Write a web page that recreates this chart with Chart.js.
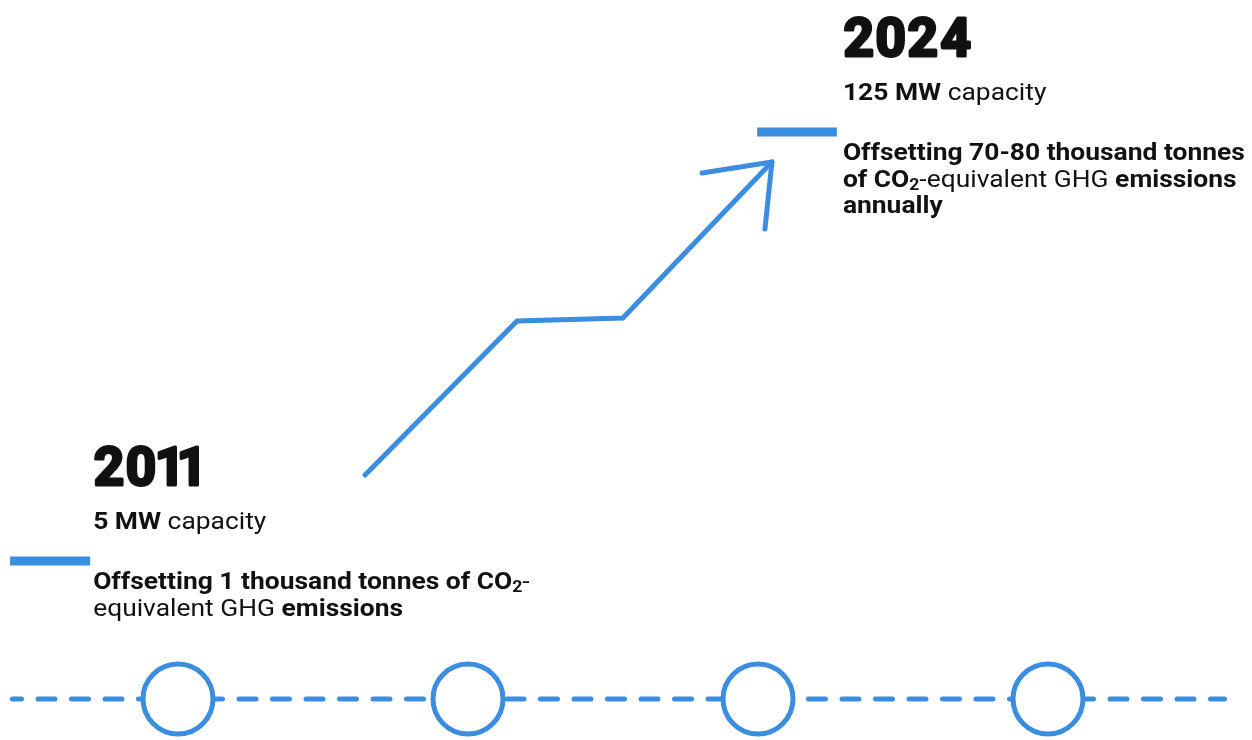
<!DOCTYPE html>
<html>
<head>
<meta charset="utf-8">
<script src="https://cdn.jsdelivr.net/npm/chart.js@4"></script>
<style>
  html, body { margin: 0; padding: 0; background: #fff; }
  canvas { display: block; }
</style>
</head>
<body>
<canvas id="growthChart" width="1252" height="740"></canvas>
<script>
// timeline: milestone circles sit at positions 1..4
const milestones = [1, 2, 3, 4];
const timelineStart = 0.4293;
const timelineEnd = 4.6086;
const timelineLevel = 41;

// growth arrow path (timeline position, level)
const growthX = [1.645, 2.169, 2.534, 3.048];
const growthY = [265, 419, 422, 578];
const arrowHeadX = [2.807, 3.048, 3.024];
const arrowHeadY = [567, 578, 511];

// the two milestone markers
const years = ['2011', '2024'];
const capacityMW = ['5', '125'];
const markerStart = [0.421, 2.997];
const markerEnd = [0.697, 3.272];
const markerLevel = [179, 608];

// offset text, split into bold / regular / subscript runs
const offsetText = [
  [
    [['Offsetting 1 thousand tonnes of CO', 'b'], ['2', 'bs'], ['-', 'r']],
    [['equivalent GHG ', 'r'], ['emissions', 'b']]
  ],
  [
    [['Offsetting 70-80 thousand tonnes', 'b']],
    [['of CO', 'b'], ['2', 'bs'], ['-equivalent GHG ', 'r'], ['emissions', 'b']],
    [['annually', 'b']]
  ]
];

const blue = '#3b8ddf';
const ink = '#111111';
const stretch = 1.1; // the source text is a bit wider than plain Roboto
const textGap = [3, 6];

const pairs = (xs, ys) => xs.map((x, i) => ({ x: x, y: ys[i] }));

function drawRuns(ctx, runs, x, y, size) {
  ctx.save();
  ctx.translate(x, y);
  ctx.scale(stretch, 1);
  let cx = 0;
  runs.forEach(([text, style]) => {
    const bold = style[0] === 'b';
    const sub = style.indexOf('s') > 0;
    const fs = sub ? Math.round(size * 0.68) : size;
    ctx.font = (bold ? '700 ' : '400 ') + fs + 'px Roboto';
    ctx.fillText(text, cx, sub ? 3 : 0);
    cx += ctx.measureText(text).width;
  });
  ctx.restore();
}

// heavy year numbers: proportional digits, stroked for extra weight
function drawYear(ctx, text, x, y) {
  ctx.save();
  ctx.font = '700 53px Roboto';
  ctx.strokeStyle = ink;
  ctx.lineWidth = 3;
  ctx.lineJoin = 'round';
  let cx = x + 1.5;
  for (const ch of text) {
    const m = ctx.measureText(ch);
    const gx = cx + m.actualBoundingBoxLeft;
    ctx.fillText(ch, gx, y);
    ctx.strokeText(ch, gx, y);
    cx += m.actualBoundingBoxLeft + m.actualBoundingBoxRight + 5;
  }
  ctx.restore();
}

const labelsPlugin = {
  id: 'milestoneLabels',
  afterDraw(chart) {
    const ctx = chart.ctx;
    const xs = chart.scales.x, ys = chart.scales.y;
    ctx.save();
    ctx.fillStyle = ink;
    ctx.textBaseline = 'alphabetic';
    ctx.textAlign = 'left';
    years.forEach((year, i) => {
      const left = xs.getPixelForValue(markerEnd[i]) + textGap[i];
      const top = ys.getPixelForValue(markerLevel[i]);
      drawYear(ctx, year, left, top - 76);
      drawRuns(ctx, [[capacityMW[i] + ' MW ', 'b'], ['capacity', 'r']], left, top - 32, 24);
      offsetText[i].forEach((line, j) => {
        drawRuns(ctx, line, left, top + 28 + j * 26.5, 24);
      });
    });
    ctx.restore();
  }
};

const ctx = document.getElementById('growthChart').getContext('2d');

new Chart(ctx, {
  type: 'scatter',
  data: {
    datasets: [
      {
        // milestone circles
        data: milestones.map(m => ({ x: m, y: timelineLevel })),
        pointRadius: 35,
        pointHoverRadius: 35,
        pointBorderWidth: 5,
        pointBackgroundColor: '#ffffff',
        pointBorderColor: blue,
        showLine: false,
        order: 1
      },
      {
        // dashed timeline
        data: [{ x: timelineStart, y: timelineLevel }, { x: timelineEnd, y: timelineLevel }],
        showLine: true,
        borderColor: blue,
        borderWidth: 5,
        borderDash: [17, 16.5],
        borderDashOffset: 8,
        borderCapStyle: 'round',
        pointRadius: 0,
        order: 5
      },
      {
        // growth line
        data: pairs(growthX, growthY),
        showLine: true,
        borderColor: blue,
        borderWidth: 5,
        borderCapStyle: 'round',
        borderJoinStyle: 'miter',
        pointRadius: 0,
        order: 2
      },
      {
        // arrow head
        data: pairs(arrowHeadX, arrowHeadY),
        showLine: true,
        borderColor: blue,
        borderWidth: 5,
        borderCapStyle: 'round',
        borderJoinStyle: 'round',
        pointRadius: 0,
        order: 2
      },
      ...markerStart.map((s, i) => ({
        // short marker bar next to each label
        data: [{ x: s, y: markerLevel[i] }, { x: markerEnd[i], y: markerLevel[i] }],
        showLine: true,
        borderColor: blue,
        borderWidth: 9,
        borderCapStyle: 'butt',
        pointRadius: 0,
        order: 2
      }))
    ]
  },
  options: {
    responsive: false,
    animation: false,
    events: [],
    layout: { padding: 0, autoPadding: false },
    scales: {
      x: { type: 'linear', display: false, min: 1 - 178 / 290, max: 1 - 178 / 290 + 1252 / 290 },
      y: { type: 'linear', display: false, min: 0, max: 740 }
    },
    elements: { line: { tension: 0 } },
    plugins: {
      legend: { display: false },
      tooltip: { enabled: false }
    }
  },
  plugins: [labelsPlugin]
});
</script>
</body>
</html>
